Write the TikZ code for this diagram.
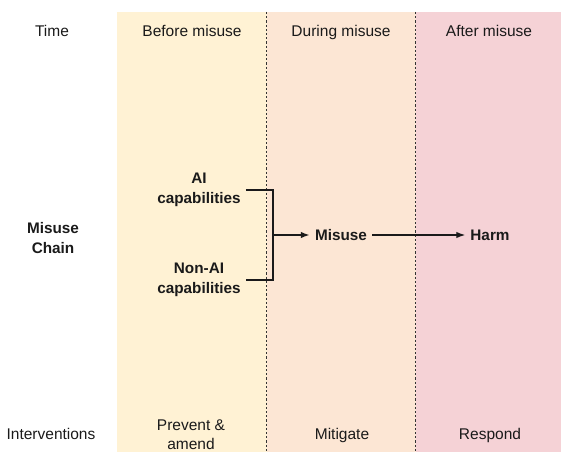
\documentclass[tikz,border=0pt]{standalone}
\usepackage{fontspec}
\setmainfont{Liberation Sans}
\usetikzlibrary{arrows.meta}
\definecolor{beforecol}{HTML}{FFF2D4}
\definecolor{duringcol}{HTML}{FCE6D4}
\definecolor{aftercol}{HTML}{F5D2D6}
\definecolor{inkcol}{HTML}{1A1A1A}
\tikzstyle{heading} = [text centered, align=center, text=inkcol, font=\fontsize{15.5}{19}\selectfont]
\tikzstyle{oneline} = [heading, text height=11pt, text depth=3.5pt]
\tikzstyle{chain} = [text centered, align=center, text=inkcol, inner sep=5pt, font=\fontsize{15.3}{20}\selectfont\bfseries]
\tikzstyle{divider} = [line width=0.9pt, dash pattern=on 2.2pt off 2pt, draw=black!80]
\tikzstyle{bracket} = [line width=1.3pt, draw=inkcol]
\tikzstyle{arrow} = [line width=1.2pt, draw=inkcol, ->, >={Latex[length=9pt,width=6.5pt]}]

\begin{document}
\begin{tikzpicture}[x=1pt,y=-1pt]
    \useasboundingbox (0,0) rectangle (561,452);
    \fill [beforecol] (117,12) rectangle (266.7,452);
    \fill [duringcol] (266.7,12) rectangle (415.7,452);
    \fill [aftercol] (415.7,12) rectangle (561,452);
    \draw [divider] (266.7,12) -- (266.7,452);
    \draw [divider] (415.7,12) -- (415.7,452);

    \node [oneline] at (52,33) (time) {Time};
    \node [oneline] at (192,33) (before) {Before misuse};
    \node [oneline] at (341,33) (during) {During misuse};
    \node [oneline] at (489,33) (after) {After misuse};

    \node [chain] at (53,238) (chain) {Misuse\\Chain};
    \node [chain] at (199,190) (ai) {AI\\capabilities};
    \node [chain] at (199,280) (nonai) {Non-AI\\capabilities};
    \coordinate (join) at (273,235);
    \node [chain] at (341,235) (misuse) {Misuse};
    \node [chain] at (490,235) (harm) {Harm};

    \node [oneline] at (51,436) (interv) {Interventions};
    \node [heading] at (191,435) (prevent) {Prevent \&\\amend};
    \node [oneline] at (342,436) (mitigate) {Mitigate};
    \node [oneline] at (490,436) (respond) {Respond};

    \draw [bracket] (ai.east) -| (join) |- (nonai.east);
    \draw [arrow, line width=1.8pt] (join) -- (misuse);
    \draw [arrow] (misuse) -- (harm);
\end{tikzpicture}
\end{document}
